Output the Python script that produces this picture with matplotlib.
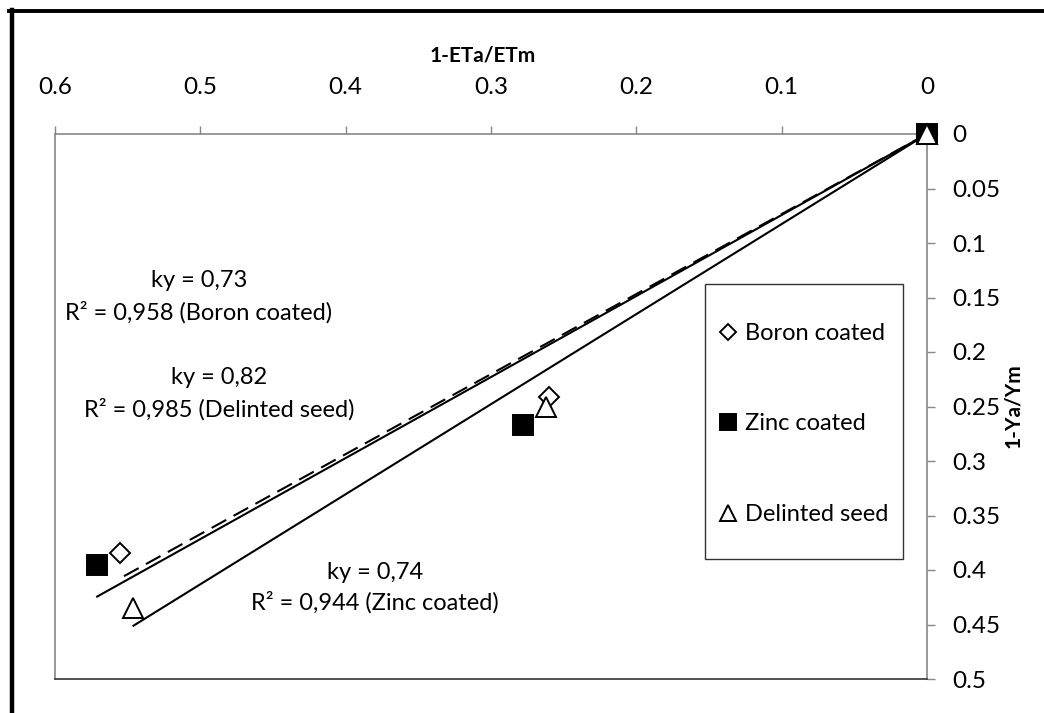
import numpy as np
import matplotlib
matplotlib.use("Agg")
import matplotlib.pyplot as plt
from matplotlib.lines import Line2D
from matplotlib.patches import Rectangle
from matplotlib.ticker import FuncFormatter, MultipleLocator

plt.rcParams["font.family"] = ["Lato", "DejaVu Sans"]

# data: x = 1-ETa/ETm, y = 1-Ya/Ym
boron_x = [0.0, 0.260, 0.555]
boron_y = [0.0, 0.241, 0.384]
zinc_x = [0.0, 0.278, 0.571]
zinc_y = [0.0, 0.267, 0.395]
delint_x = [0.0, 0.262, 0.546]
delint_y = [0.0, 0.250, 0.435]
series_names = ["Boron coated", "Zinc coated", "Delinted seed"]
ky_labels = ["ky = 0,73", "ky = 0,82", "ky = 0,74"]
r2_labels = ["R² = 0,958 (Boron coated)", "R² = 0,985 (Delinted seed)",
             "R² = 0,944 (Zinc coated)"]


def slope0(x, y):
    # linear trend forced through the origin, drawn over the data range
    x = np.asarray(x); y = np.asarray(y)
    return (x * y).sum() / (x * x).sum()


W, H = 1044, 713
fig = plt.figure(figsize=(W / 100, H / 100), dpi=100)
ax = fig.add_axes([55 / W, 1 - 679 / H, (927 - 55) / W, (679 - 134) / H])

# trendlines
for xs, ys, ls in ((boron_x, boron_y, (0, (8, 4))), (zinc_x, zinc_y, "-"),
                   (delint_x, delint_y, "-")):
    k = slope0(xs, ys)
    xx = np.array([0, max(xs)])
    ax.plot(xx, k * xx, color="black", lw=1.5, ls=ls, zorder=2)

mk = dict(ls="none", markeredgecolor="black", markeredgewidth=1.4, zorder=3,
          clip_on=False)
ax.plot(boron_x, boron_y, marker="D", ms=10, markerfacecolor="white",
        label=series_names[0], **mk)
ax.plot(zinc_x, zinc_y, marker="s", ms=14, markerfacecolor="black",
        label=series_names[1], **mk)
ax.plot(delint_x, delint_y, marker="^", ms=14, markerfacecolor="white",
        label=series_names[2], **mk)

ax.set_xlim(0.6, 0)
ax.set_ylim(0.5, 0)
ax.xaxis.tick_top()
ax.xaxis.set_label_position("top")
ax.yaxis.tick_right()
ax.yaxis.set_label_position("right")
ax.xaxis.set_major_locator(MultipleLocator(0.1))
ax.yaxis.set_major_locator(MultipleLocator(0.05))
fmt = FuncFormatter(lambda v, p: f"{abs(v):g}")
ax.xaxis.set_major_formatter(fmt)
ax.yaxis.set_major_formatter(fmt)
ax.tick_params(axis="x", direction="out", length=6, width=1, color="#888888",
               labelsize=17.5, pad=20)
ax.tick_params(axis="y", direction="out", length=6, width=1, color="#888888",
               labelsize=17.5, pad=12)
for s in ("top", "right", "left"):
    ax.spines[s].set_color("#888888")
    ax.spines[s].set_linewidth(1.2)
ax.spines["bottom"].set_color("#333333")
ax.spines["bottom"].set_linewidth(1.2)

ax.set_xlabel("1-ETa/ETm", fontsize=15, fontweight="bold")
ax.set_ylabel("1-Ya/Ym", fontsize=15, fontweight="bold", rotation=90)
ax.xaxis.set_label_coords((483 - 55) / (927 - 55), (679 - 62) / (679 - 134))
ax.yaxis.set_label_coords((1003 - 55) / (927 - 55), (679 - 406) / (679 - 134))

# trendline labels
lab_pos = [(0.501, 0.134, 0.164), (0.487, 0.223, 0.253), (0.380, 0.402, 0.430)]
for (xp, y1, y2), t1, t2 in zip(lab_pos, ky_labels, r2_labels):
    ax.text(xp, y1, t1, ha="center", va="center", fontsize=17)
    ax.text(xp, y2, t2, ha="center", va="center", fontsize=17)

# legend in its own box
leg = ax.legend(loc="upper left", bbox_to_anchor=(707 / W, 1 - 311 / H),
                bbox_transform=fig.transFigure, frameon=False, fontsize=17,
                labelspacing=2.95, handlelength=0.8, handletextpad=0.3,
                markerscale=0.8, borderpad=0)
fig.patches.append(Rectangle((705 / W, 1 - 559 / H), (903 - 705) / W,
                             (559 - 284) / H, transform=fig.transFigure,
                             fill=False, edgecolor="#333333", lw=1.0))

# outer frame (top and left edges visible)
fig.lines.append(Line2D([9 / W, 1], [1 - 11 / H, 1 - 11 / H],
                        transform=fig.transFigure, color="black", lw=2.8))
fig.lines.append(Line2D([11.5 / W, 11.5 / W], [0, 1 - 9.5 / H],
                        transform=fig.transFigure, color="black", lw=3.2))

fig.savefig("out.png", dpi=100)
